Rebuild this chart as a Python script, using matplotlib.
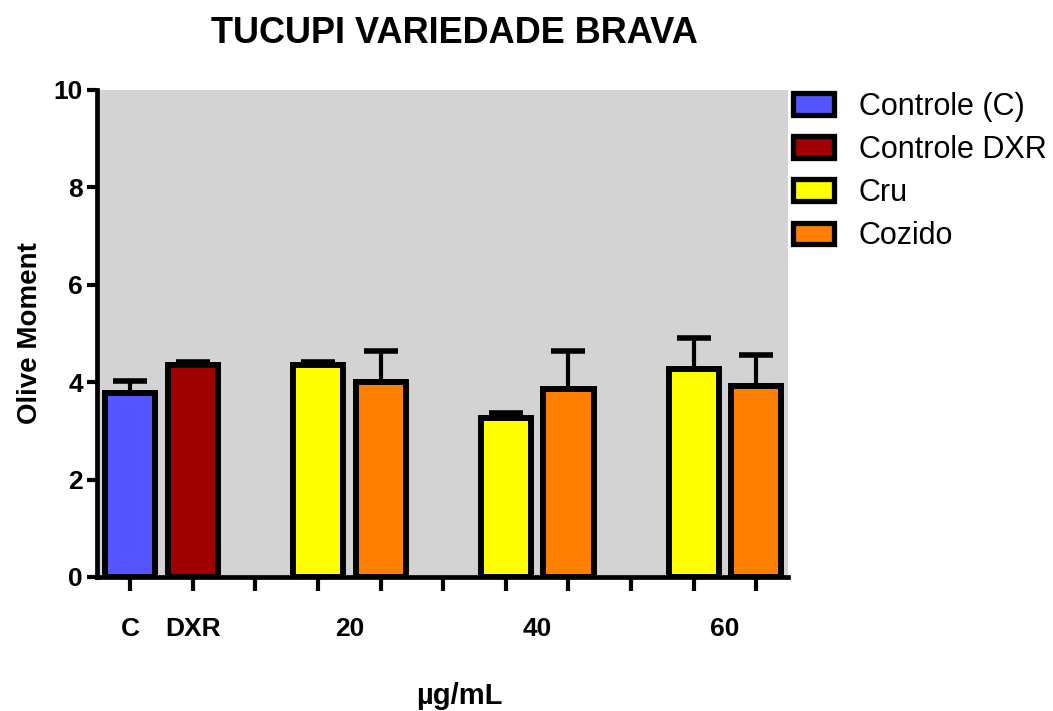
import numpy as np
import matplotlib
matplotlib.use("Agg")
import matplotlib.pyplot as plt
from matplotlib.patches import Patch

plt.rcParams['font.family'] = ['Liberation Sans', 'DejaVu Sans']

series_names = ["Controle (C)", "Controle DXR", "Cru", "Cozido"]
series_colors = ["#5555ff", "#a00000", "#ffff00", "#ff8000"]

control_labels = ["C", "DXR"]
control_vals = [3.78, 4.35]
control_err = [0.24, 0.06]

doses = ["20", "40", "60"]
cru_vals = [4.35, 3.26, 4.27]
cru_err = [0.06, 0.11, 0.64]
cozido_vals = [4.00, 3.86, 3.92]
cozido_err = [0.64, 0.78, 0.64]

fig = plt.figure(figsize=(10.53, 7.11), dpi=100)
ax = fig.add_axes([0.092, 0.1885, 0.656, 0.685])
ax.set_facecolor("#d3d3d3")

bw = 0.8
lw = 4.3

def draw(x, h, e, color):
    ax.bar(x, h, width=bw, color=color, edgecolor="black", linewidth=lw, zorder=3)
    eb = ax.errorbar(x, h, yerr=[[0] * len(h), e], fmt="none", capsize=12,
                     elinewidth=3, capthick=4, ecolor="black", zorder=2)
    for c in eb[1]:
        c.set_solid_capstyle("round")

draw([0], [control_vals[0]], [control_err[0]], series_colors[0])
draw([1], [control_vals[1]], [control_err[1]], series_colors[1])
cru_x = [3 + 3 * i for i in range(len(doses))]
coz_x = [4 + 3 * i for i in range(len(doses))]
draw(cru_x, cru_vals, cru_err, series_colors[2])
draw(coz_x, cozido_vals, cozido_err, series_colors[3])

ax.set_xlim(-0.53, 10.5)
ax.set_ylim(0, 10)
ax.set_yticks(range(0, 11, 2))

ax.xaxis.remove_overlapping_locs = False
ax.set_xticks(range(11))
ax.set_xticklabels([])
ax.set_xticks([0, 1] + [3.5 + 3 * i for i in range(len(doses))], minor=True)
ax.set_xticklabels(control_labels + doses, minor=True)
ax.tick_params(axis="x", which="major", length=10, width=3, direction="out")
ax.tick_params(axis="x", which="minor", length=0, pad=29, labelsize=19)
ax.tick_params(axis="y", length=7, width=3, direction="out", labelsize=19, pad=3)
for lab in ax.get_xticklabels(minor=True) + ax.get_yticklabels():
    lab.set_fontweight("bold")

for s in ["top", "right"]:
    ax.spines[s].set_visible(False)
for s in ["left", "bottom"]:
    ax.spines[s].set_linewidth(3.4)

ax.set_xlabel("µg/mL", fontsize=21, fontweight="bold")
ax.xaxis.set_label_coords(0.525, -0.215)
ax.set_ylabel("Olive Moment", fontsize=20, fontweight="bold", labelpad=8)
fig.text(0.432, 0.953, "TUCUPI VARIEDADE BRAVA", ha="center", va="center",
         fontsize=26, fontweight="bold")

handles = [Patch(facecolor=c, edgecolor="black", linewidth=3.8) for c in series_colors]
fig.legend(handles, series_names, loc="upper left", bbox_to_anchor=(0.753, 0.871),
           frameon=False, fontsize=22, handlelength=1.35, handleheight=0.72,
           labelspacing=0.43, handletextpad=0.8, borderpad=0, borderaxespad=0)

fig.savefig("out.png", dpi=100)
